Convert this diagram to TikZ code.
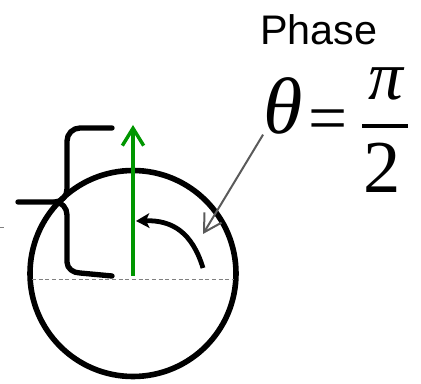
\documentclass[tikz,border=0pt]{standalone}
\usepackage{fontspec}
\setmainfont{Liberation Serif}
\newfontfamily\labelfont{Liberation Sans}
\usetikzlibrary{arrows.meta, positioning, calc}
\definecolor{phasegreen}{RGB}{0,150,0}
\definecolor{pointergray}{RGB}{90,90,90}

\begin{document}
\begin{tikzpicture}[
  x=0.75pt, y=-0.75pt,
  rim/.style={draw, circle, line width=4.2pt, minimum size=154.5pt, inner sep=0pt},
  brace/.style={line width=4pt, line cap=round, line join=round},
  bigmath/.style={font=\fontsize{50}{56}\selectfont, inner sep=0pt}]
  \useasboundingbox (0,0) rectangle (421,384);

  % sphere and equator
  \node[rim] (sphere) at (133,273.5) {};
  \draw[densely dashed, gray, line width=0.6pt] (32,279) -- (234,279);

  % vector
  \coordinate (base) at (133,276);
  \coordinate (top) at (133,125);
  \draw[phasegreen, line width=2.6pt, -{Straight Barb[length=13pt, width=16pt]}] (base) -- (top);

  % brace
  \draw[brace] (112,128) -- (80,128) to[out=180,in=90] (67,141) -- (67,189)
    to[out=-90,in=0] (55,202) -- (18,202);
  \draw[brace] (55,202) to[out=0,in=90] (67,215) -- (67,262)
    to[out=-90,in=180] (80,273) -- (112,276);
  \draw[gray, line width=0.6pt] (0,227) -- (4,227);

  % rotation
  \coordinate (swirl) at (203,268);
  \coordinate (swirl end) at (136,221);
  \draw[line width=3.6pt, -{Stealth[length=10pt, width=11pt, inset=2.5pt]}]
    (swirl) .. controls (192,232) and (172,220) .. (swirl end);

  % label
  \node[font=\labelfont\fontsize{31}{36}\selectfont, anchor=base] (phase) at (319,45) {Phase};
  \node[bigmath, font=\fontsize{60}{70}\selectfont\itshape] (theta) at (283,106) {θ};
  \node[bigmath, font=\fontsize{52}{60}\selectfont] (eq) at (328,126) {=};
  \node[bigmath, font=\fontsize{52}{60}\selectfont\itshape] (num) at (386,84) {π};
  \node[bigmath, font=\fontsize{56}{60}\selectfont] (den) at (382,168) {2};
  \draw[line width=2.6pt] (362,126) -- (408,126);

  \coordinate (aim) at (203,234);
  \draw[pointergray, line width=1.5pt, -{Straight Barb[length=13pt, width=15pt]}] (theta.south west) -- (aim);
\end{tikzpicture}
\end{document}
